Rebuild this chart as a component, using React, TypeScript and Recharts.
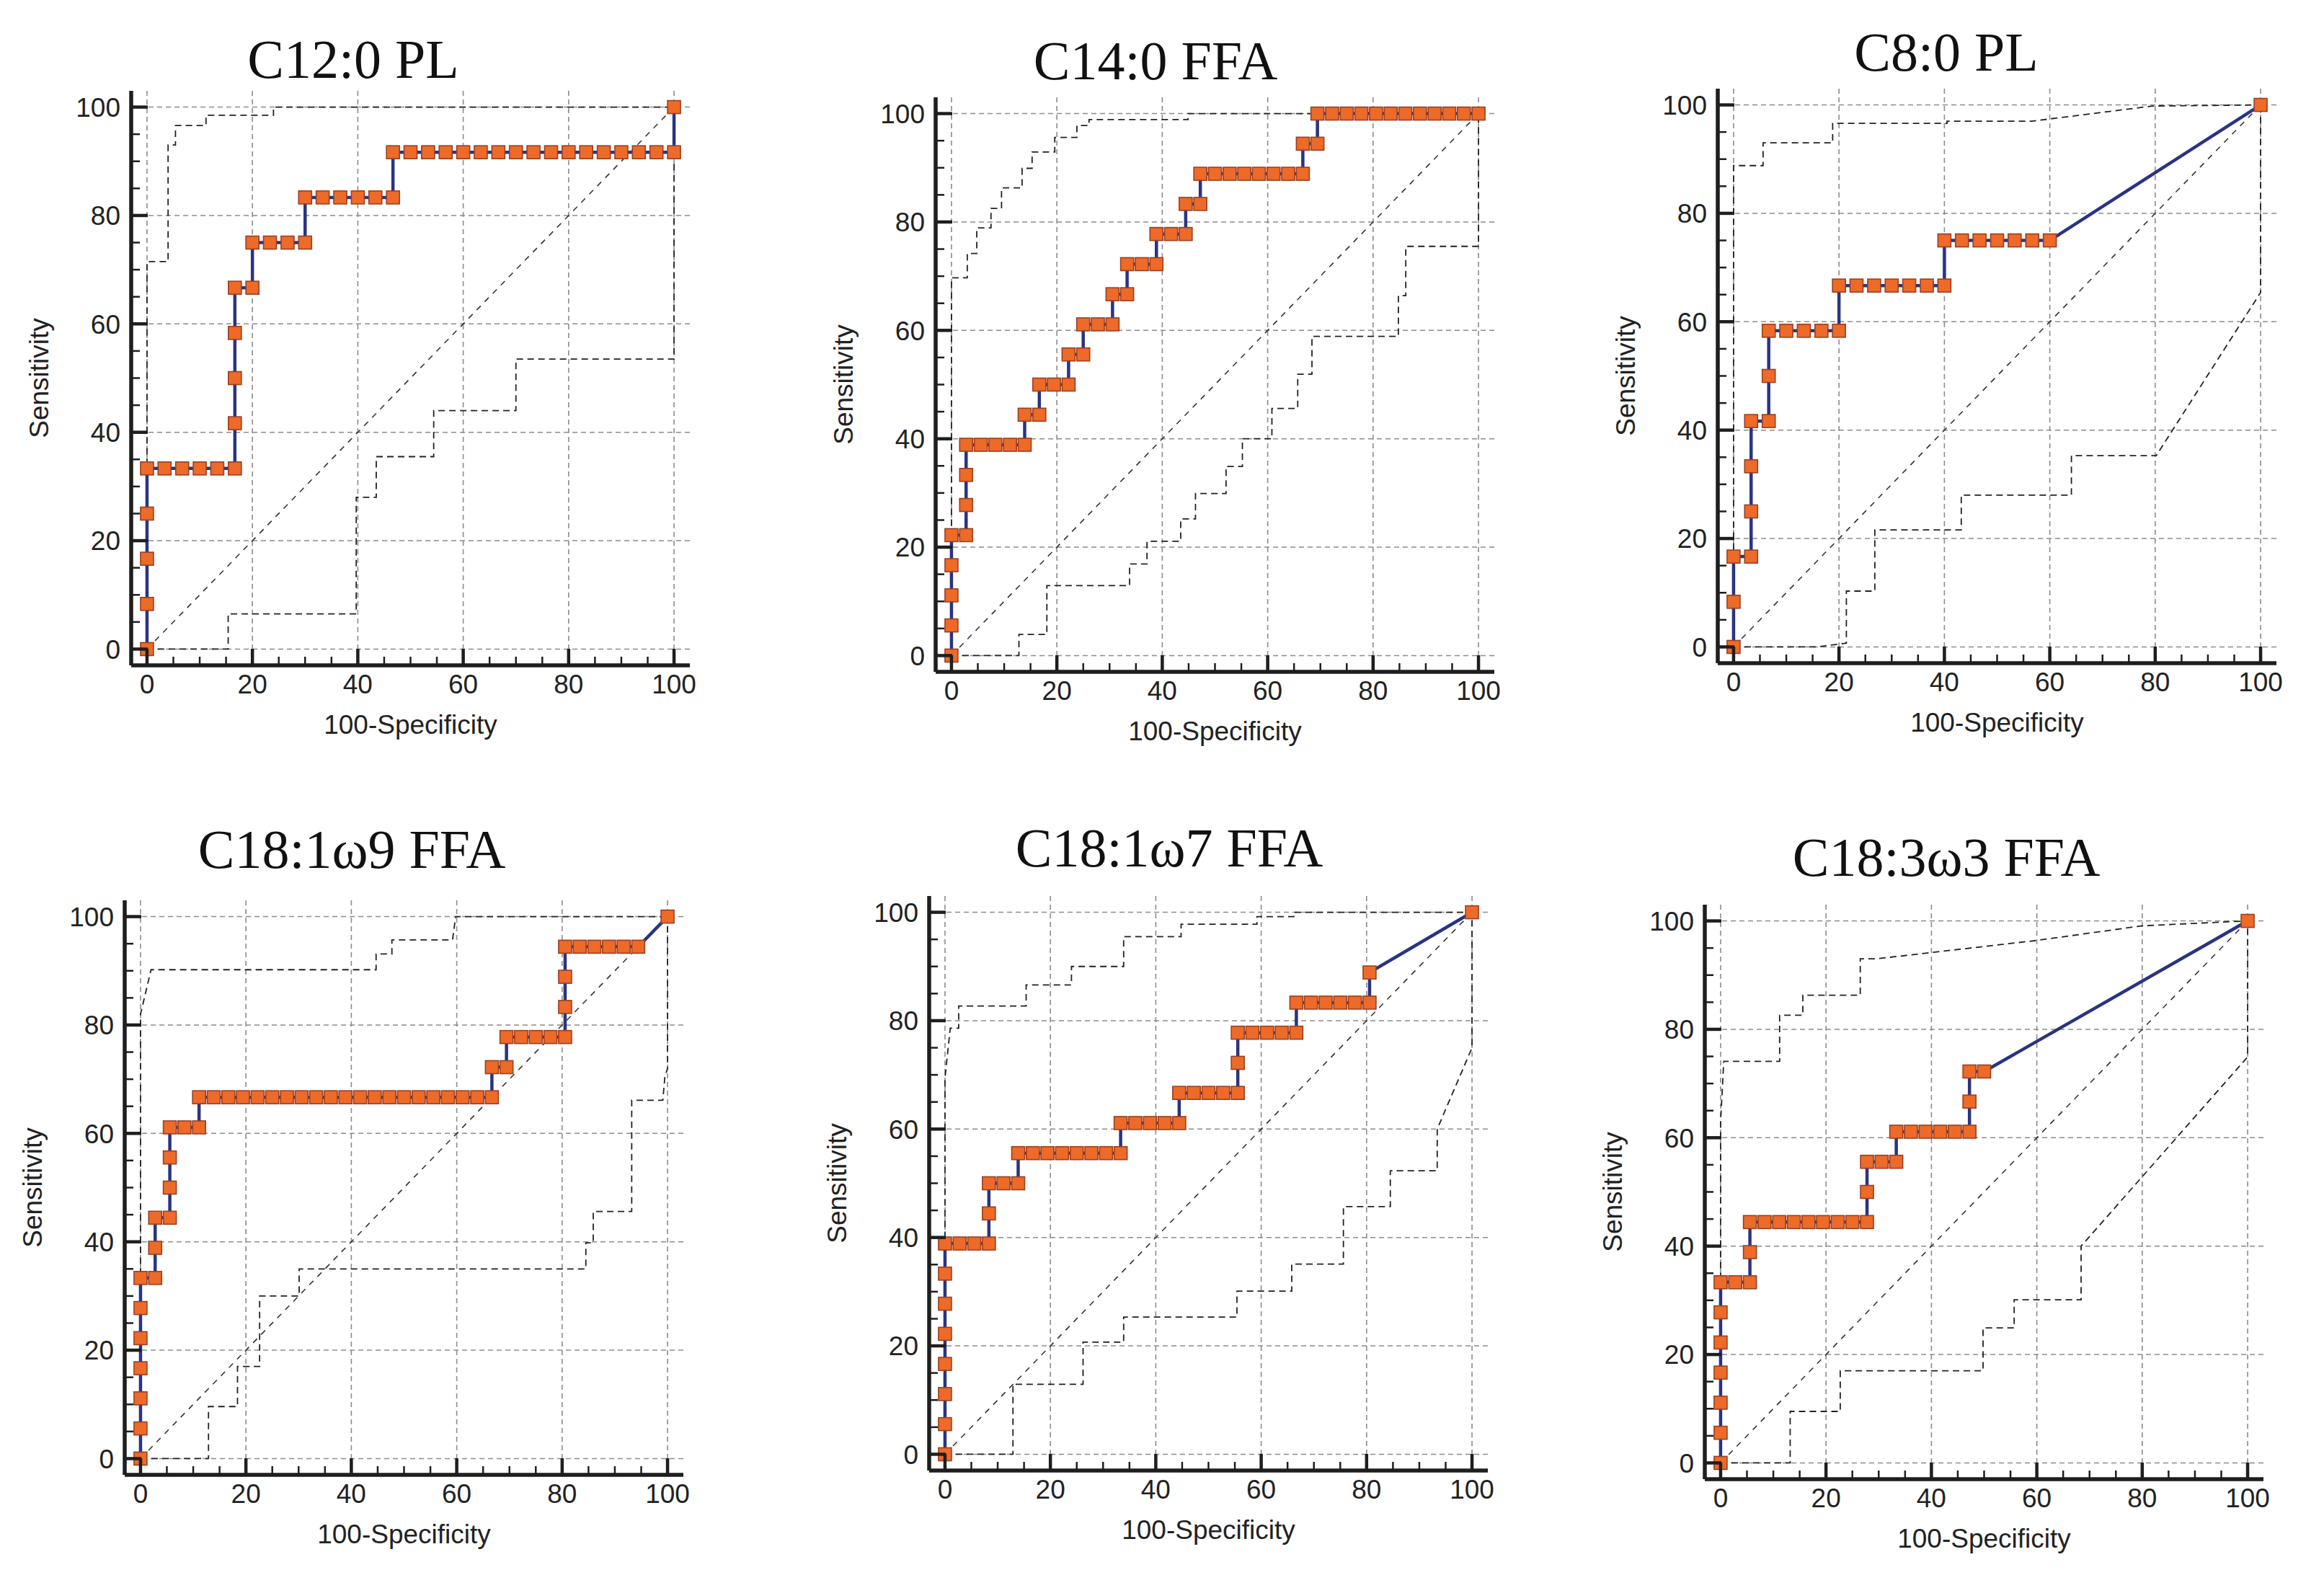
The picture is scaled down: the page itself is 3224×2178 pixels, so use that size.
import React from 'react';
import { LineChart, Line, XAxis, YAxis, CartesianGrid, Label } from 'recharts';

type Pt = [number, number];

const GRID_TICKS = [0, 20, 40, 60, 80, 100];
const AXIS_TICKS = [0, 5, 10, 15, 20, 25, 30, 35, 40, 45, 50, 55, 60, 65, 70, 75, 80, 85, 90, 95, 100];
const DOMAIN: [number, number] = [-3, 103];
const DIAGONAL: Pt[] = [[0, 0], [100, 100]];

const TITLES = ['C12:0 PL', 'C14:0 FFA', 'C8:0 PL', 'C18:1\u03c99 FFA', 'C18:1\u03c97 FFA', 'C18:3\u03c93 FFA'];

// C12:0 PL
const c12Roc: Pt[] = [
  [0, 0], [0, 8.33], [0, 16.67], [0, 25], [0, 33.33], [3.33, 33.33], [6.67, 33.33], [10, 33.33],
  [13.33, 33.33], [16.67, 33.33], [16.67, 41.67], [16.67, 50], [16.67, 58.33], [16.67, 66.67],
  [20, 66.67], [20, 75], [23.33, 75], [26.67, 75], [30, 75], [30, 83.33], [33.33, 83.33],
  [36.67, 83.33], [40, 83.33], [43.33, 83.33], [46.67, 83.33], [46.67, 91.67], [50, 91.67],
  [53.33, 91.67], [56.67, 91.67], [60, 91.67], [63.33, 91.67], [66.67, 91.67], [70, 91.67],
  [73.33, 91.67], [76.67, 91.67], [80, 91.67], [83.33, 91.67], [86.67, 91.67], [90, 91.67],
  [93.33, 91.67], [96.67, 91.67], [100, 91.67], [100, 100],
];
const c12Upper: Pt[] = [
  [0, 0], [0, 71.5], [4, 71.5], [4, 93], [5.4, 93], [5.4, 96.6], [11.2, 96.6], [11.2, 98.5],
  [24, 98.5], [24, 100], [100, 100],
];
const c12Lower: Pt[] = [
  [0, 0], [15.4, 0], [15.4, 6.5], [39.7, 6.5], [39.7, 28], [43.5, 28], [43.5, 35.5], [54.4, 35.5],
  [54.4, 44], [70, 44], [70, 53.5], [100, 53.5], [100, 100],
];

// C14:0 FFA
const c14Roc: Pt[] = [
  [0, 0], [0, 5.56], [0, 11.11], [0, 16.67], [0, 22.22], [2.78, 22.22], [2.78, 27.78], [2.78, 33.33],
  [2.78, 38.89], [5.56, 38.89], [8.33, 38.89], [11.11, 38.89], [13.89, 38.89], [13.89, 44.44],
  [16.67, 44.44], [16.67, 50], [19.44, 50], [22.22, 50], [22.22, 55.56], [25, 55.56], [25, 61.11],
  [27.78, 61.11], [30.56, 61.11], [30.56, 66.67], [33.33, 66.67], [33.33, 72.22], [36.11, 72.22],
  [38.89, 72.22], [38.89, 77.78], [41.67, 77.78], [44.44, 77.78], [44.44, 83.33], [47.22, 83.33],
  [47.22, 88.89], [50, 88.89], [52.78, 88.89], [55.56, 88.89], [58.33, 88.89], [61.11, 88.89],
  [63.89, 88.89], [66.67, 88.89], [66.67, 94.44], [69.44, 94.44], [69.44, 100], [72.22, 100],
  [75, 100], [77.78, 100], [80.56, 100], [83.33, 100], [86.11, 100], [88.89, 100], [91.67, 100],
  [94.44, 100], [97.22, 100], [100, 100],
];
const c14Upper: Pt[] = [
  [0, 0], [0, 69.7], [3, 69.7], [3, 74.2], [4.8, 74.2], [4.8, 78.9], [7.5, 78.9], [7.5, 82.5],
  [9.5, 82.5], [9.5, 86.3], [13.4, 86.3], [13.4, 89.9], [15.3, 89.9], [15.3, 92.9], [19.6, 92.9],
  [19.6, 95.6], [23.8, 95.6], [23.8, 97.8], [26.1, 97.8], [26.1, 98.9], [44.9, 98.9], [44.9, 100],
  [100, 100],
];
const c14Lower: Pt[] = [
  [0, 0], [12.8, 0], [12.8, 3.9], [18.1, 3.9], [18.1, 12.9], [33.8, 12.9], [33.8, 16.9], [37.1, 16.9],
  [37.1, 21.1], [43.5, 21.1], [43.5, 25.2], [46.3, 25.2], [46.3, 29.9], [52.1, 29.9], [52.1, 34.9],
  [55.2, 34.9], [55.2, 40], [60.8, 40], [60.8, 45.6], [65.7, 45.6], [65.7, 51.9], [68.4, 51.9],
  [68.4, 58.9], [84.8, 58.9], [84.8, 66.4], [86.2, 66.4], [86.2, 75.5], [100, 75.5], [100, 100],
];

// C8:0 PL
const c8Roc: Pt[] = [
  [0, 0], [0, 8.33], [0, 16.67], [3.33, 16.67], [3.33, 25], [3.33, 33.33], [3.33, 41.67], [6.67, 41.67],
  [6.67, 50], [6.67, 58.33], [10, 58.33], [13.33, 58.33], [16.67, 58.33], [20, 58.33], [20, 66.67],
  [23.33, 66.67], [26.67, 66.67], [30, 66.67], [33.33, 66.67], [36.67, 66.67], [40, 66.67], [40, 75],
  [43.33, 75], [46.67, 75], [50, 75], [53.33, 75], [56.67, 75], [60, 75], [100, 100],
];
const c8Upper: Pt[] = [
  [0, 0], [0, 88.8], [5.6, 88.8], [5.6, 93], [18.8, 93], [18.8, 96.6], [40.5, 96.6], [40.5, 97],
  [56.6, 97], [79.5, 99.8], [100, 100],
];
const c8Lower: Pt[] = [
  [0, 0], [15.8, 0], [21.4, 0.7], [21.4, 10.3], [26.8, 10.3], [26.8, 21.6], [43.2, 21.6], [43.2, 28],
  [64.1, 28], [64.1, 35.3], [80.2, 35.3], [100, 65.4], [100, 100],
];

// C18:1w9 FFA
const c181w9Roc: Pt[] = [
  [0, 0], [0, 5.56], [0, 11.11], [0, 16.67], [0, 22.22], [0, 27.78], [0, 33.33], [2.78, 33.33],
  [2.78, 38.89], [2.78, 44.44], [5.56, 44.44], [5.56, 50], [5.56, 55.56], [5.56, 61.11], [8.33, 61.11],
  [11.11, 61.11], [11.11, 66.67], [13.89, 66.67], [16.67, 66.67], [19.44, 66.67], [22.22, 66.67],
  [25, 66.67], [27.78, 66.67], [30.56, 66.67], [33.33, 66.67], [36.11, 66.67], [38.89, 66.67],
  [41.67, 66.67], [44.44, 66.67], [47.22, 66.67], [50, 66.67], [52.78, 66.67], [55.56, 66.67],
  [58.33, 66.67], [61.11, 66.67], [63.89, 66.67], [66.67, 66.67], [66.67, 72.22], [69.44, 72.22],
  [69.44, 77.78], [72.22, 77.78], [75, 77.78], [77.78, 77.78], [80.56, 77.78], [80.56, 83.33],
  [80.56, 88.89], [80.56, 94.44], [83.33, 94.44], [86.11, 94.44], [88.89, 94.44], [91.67, 94.44],
  [94.44, 94.44], [100, 100],
];
const c181w9Upper: Pt[] = [
  [0, 0], [0, 82], [2, 90.2], [44.7, 90.2], [44.7, 93.1], [47.7, 93.1], [47.7, 95.7], [59.2, 95.7],
  [59.8, 100], [100, 100],
];
const c181w9Lower: Pt[] = [
  [0, 0], [12.9, 0], [12.9, 9.6], [18.4, 9.6], [18.4, 17], [22.6, 17], [22.6, 30], [30.1, 30],
  [30.1, 35], [84.5, 35], [84.5, 39.8], [85.9, 39.8], [85.9, 45.6], [93.2, 45.6], [93.2, 66.1],
  [99.1, 66.1], [99.5, 70.5], [100, 72], [100, 100],
];

// C18:1w7 FFA
const c181w7Roc: Pt[] = [
  [0, 0], [0, 5.56], [0, 11.11], [0, 16.67], [0, 22.22], [0, 27.78], [0, 33.33], [0, 38.89],
  [2.78, 38.89], [5.56, 38.89], [8.33, 38.89], [8.33, 44.44], [8.33, 50], [11.11, 50], [13.89, 50],
  [13.89, 55.56], [16.67, 55.56], [19.44, 55.56], [22.22, 55.56], [25, 55.56], [27.78, 55.56],
  [30.56, 55.56], [33.33, 55.56], [33.33, 61.11], [36.11, 61.11], [38.89, 61.11], [41.67, 61.11],
  [44.44, 61.11], [44.44, 66.67], [47.22, 66.67], [50, 66.67], [52.78, 66.67], [55.56, 66.67],
  [55.56, 72.22], [55.56, 77.78], [58.33, 77.78], [61.11, 77.78], [63.89, 77.78], [66.67, 77.78],
  [66.67, 83.33], [69.44, 83.33], [72.22, 83.33], [75, 83.33], [77.78, 83.33], [80.56, 83.33],
  [80.56, 88.89], [100, 100],
];
const c181w7Upper: Pt[] = [
  [0, 0], [0, 69.4], [1, 78.6], [2.6, 78.6], [2.6, 82.7], [15.4, 82.7], [15.4, 86.6], [24, 86.6],
  [24, 90], [33.9, 90], [33.9, 95.5], [44.8, 95.5], [44.8, 97.8], [59.2, 97.8], [59.2, 99.2],
  [66.2, 99.2], [66.2, 100], [100, 100],
];
const c181w7Lower: Pt[] = [
  [0, 0], [12.9, 0], [12.9, 12.9], [26.2, 12.9], [26.2, 20.7], [33.9, 20.7], [33.9, 25.3], [55.4, 25.3],
  [55.4, 30.1], [65.8, 30.1], [65.8, 35.1], [75.6, 35.1], [75.6, 45.7], [84.5, 45.7], [84.5, 52.3],
  [93.4, 52.3], [93.4, 60], [100, 75], [100, 100],
];

// C18:3w3 FFA
const c183w3Roc: Pt[] = [
  [0, 0], [0, 5.56], [0, 11.11], [0, 16.67], [0, 22.22], [0, 27.78], [0, 33.33], [2.78, 33.33],
  [5.56, 33.33], [5.56, 38.89], [5.56, 44.44], [8.33, 44.44], [11.11, 44.44], [13.89, 44.44],
  [16.67, 44.44], [19.44, 44.44], [22.22, 44.44], [25, 44.44], [27.78, 44.44], [27.78, 50],
  [27.78, 55.56], [30.56, 55.56], [33.33, 55.56], [33.33, 61.11], [36.11, 61.11], [38.89, 61.11],
  [41.67, 61.11], [44.44, 61.11], [47.22, 61.11], [47.22, 66.67], [47.22, 72.22], [50, 72.22],
  [100, 100],
];
const c183w3Upper: Pt[] = [
  [0, 0], [0, 63], [0.6, 74.1], [11.2, 74.1], [11.2, 82.6], [15.6, 82.6], [15.6, 86.3], [26.5, 86.3],
  [26.5, 93], [29.5, 93], [60, 96.4], [80, 99.1], [100, 100],
];
const c183w3Lower: Pt[] = [
  [0, 0], [13.2, 0], [13.2, 9.5], [22.7, 9.5], [22.7, 17], [49.8, 17], [49.8, 24.9], [55.7, 24.9],
  [55.7, 30.1], [68.4, 30.1], [68.4, 40], [100, 74.9], [100, 100],
];

const PANELS = [
  { title: TITLES[0], roc: c12Roc, upper: c12Upper, lower: c12Lower },
  { title: TITLES[1], roc: c14Roc, upper: c14Upper, lower: c14Lower },
  { title: TITLES[2], roc: c8Roc, upper: c8Upper, lower: c8Lower },
  { title: TITLES[3], roc: c181w9Roc, upper: c181w9Upper, lower: c181w9Lower },
  { title: TITLES[4], roc: c181w7Roc, upper: c181w7Upper, lower: c181w7Lower },
  { title: TITLES[5], roc: c183w3Roc, upper: c183w3Upper, lower: c183w3Lower },
];

// page position of each plot area (px) and its title
const PLOT_W = 775;
const PLOT_H = 797;
const LAYOUT = [
  { left: 182, top: 126, titleX: 490, titleY: 108 },
  { left: 1298, top: 135, titleX: 1603, titleY: 110 },
  { left: 2383, top: 123, titleX: 2700, titleY: 98 },
  { left: 173, top: 1249, titleX: 488, titleY: 1204 },
  { left: 1289, top: 1243, titleX: 1622, titleY: 1202 },
  { left: 2365, top: 1255, titleX: 2700, titleY: 1215 },
];

const SANS = '"Liberation Sans", Arial, sans-serif';
const SERIF = '"Liberation Serif", "Times New Roman", serif';
const INK = '#1e1e1e';
const Y_GAP = 15;
const X_GAP = 26;

const toRows = (pts: Pt[]) => pts.map(([x, y]) => ({ x, y }));

function XTick(props: any) {
  const { x, y, payload } = props;
  const major = payload.value % 20 === 0;
  const axisY = y - X_GAP;
  return (
    <g>
      <line x1={x} x2={x} y1={axisY} y2={axisY - (major ? 23 : 12)} stroke={INK} strokeWidth={major ? 4.5 : 2.5} />
      {major && (
        <text x={x} y={y} dy="0.36em" textAnchor="middle" fontSize={37} fill="#222" fontFamily={SANS}>
          {payload.value}
        </text>
      )}
    </g>
  );
}

function YTick(props: any) {
  const { x, y, payload } = props;
  const major = payload.value % 20 === 0;
  const axisX = x + Y_GAP;
  return (
    <g>
      <line x1={axisX} x2={axisX + (major ? 23 : 12)} y1={y} y2={y} stroke={INK} strokeWidth={major ? 4.5 : 2.5} />
      {major && (
        <text x={x} y={y} dy="0.36em" textAnchor="end" fontSize={37} fill="#222" fontFamily={SANS}>
          {payload.value}
        </text>
      )}
    </g>
  );
}

function Square(props: any) {
  const { cx, cy, index } = props;
  if (cx == null || cy == null) return <g key={index} />;
  return (
    <rect key={index} x={cx - 9} y={cy - 9} width={18} height={18} fill="#ee6a28" stroke="#9a3f22" strokeWidth={1.6} />
  );
}

function RocPanel({ panel, box }: { panel: (typeof PANELS)[number]; box: (typeof LAYOUT)[number] }) {
  const width = PLOT_W + 200;
  const height = PLOT_H + 160;
  return (
    <>
      <div
        style={{
          position: 'absolute',
          left: box.titleX,
          top: box.titleY - 64,
          transform: 'translateX(-50%)',
          fontFamily: SERIF,
          fontSize: 76,
          lineHeight: '76px',
          whiteSpace: 'nowrap',
          color: '#111',
        }}
      >
        {panel.title}
      </div>
      <div style={{ position: 'absolute', left: box.left - 160, top: box.top - 20 }}>
        <LineChart width={width} height={height} margin={{ top: 20, right: 40, bottom: 80, left: 100 }}>
          <CartesianGrid
            horizontalValues={GRID_TICKS}
            verticalValues={GRID_TICKS}
            stroke="#8c8c8c"
            strokeWidth={1.6}
            strokeDasharray="7 5"
          />
          <XAxis
            type="number"
            dataKey="x"
            domain={DOMAIN}
            allowDataOverflow
            ticks={AXIS_TICKS}
            interval={0}
            height={60}
            tickSize={0}
            tickMargin={X_GAP}
            tickLine={false}
            tick={<XTick />}
            axisLine={{ stroke: INK, strokeWidth: 5.5 }}
          >
            <Label
              content={(p: any) => {
                const vb = p.viewBox;
                return (
                  <text x={vb.x + vb.width / 2} y={vb.y + 95} textAnchor="middle" fontSize={37} fill="#222" fontFamily={SANS}>
                    100-Specificity
                  </text>
                );
              }}
            />
          </XAxis>
          <YAxis
            type="number"
            dataKey="y"
            domain={DOMAIN}
            allowDataOverflow
            ticks={AXIS_TICKS}
            interval={0}
            width={60}
            tickSize={0}
            tickMargin={Y_GAP}
            tickLine={false}
            tick={<YTick />}
            axisLine={{ stroke: INK, strokeWidth: 5.5 }}
          >
            <Label
              content={(p: any) => {
                const vb = p.viewBox;
                const cx = vb.x + vb.width - 128;
                const cy = vb.y + vb.height / 2;
                return (
                  <text
                    x={cx}
                    y={cy}
                    dy="0.36em"
                    textAnchor="middle"
                    fontSize={37}
                    fill="#222"
                    fontFamily={SANS}
                    transform={`rotate(-90, ${cx}, ${cy})`}
                  >
                    Sensitivity
                  </text>
                );
              }}
            />
          </YAxis>
          <Line data={toRows(DIAGONAL)} dataKey="y" type="linear" stroke="#333" strokeWidth={1.6} strokeDasharray="8 8" dot={false} activeDot={false} isAnimationActive={false} />
          <Line data={toRows(panel.upper)} dataKey="y" type="linear" stroke="#222" strokeWidth={1.8} strokeDasharray="9 6" dot={false} activeDot={false} isAnimationActive={false} />
          <Line data={toRows(panel.lower)} dataKey="y" type="linear" stroke="#222" strokeWidth={1.8} strokeDasharray="9 6" dot={false} activeDot={false} isAnimationActive={false} />
          <Line data={toRows(panel.roc)} dataKey="y" type="linear" stroke="#2a3382" strokeWidth={4.5} dot={Square} activeDot={false} isAnimationActive={false} />
        </LineChart>
      </div>
    </>
  );
}

export default function App() {
  return (
    <div style={{ position: 'absolute', left: 0, top: 0, width: 3224, height: 2178, background: '#fff', overflow: 'hidden' }}>
      {PANELS.map((p, i) => (
        <RocPanel key={p.title} panel={p} box={LAYOUT[i]} />
      ))}
    </div>
  );
}
